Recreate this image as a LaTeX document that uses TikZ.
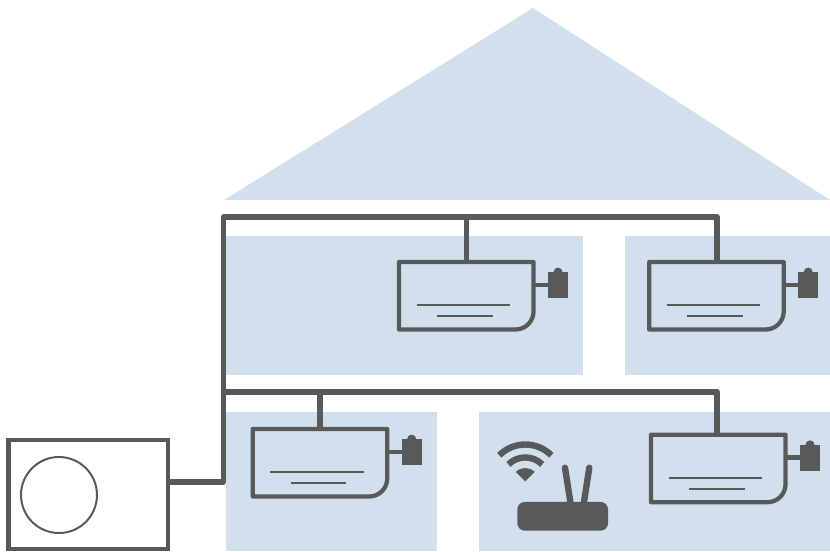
\documentclass[tikz,border=0pt]{standalone}
\usetikzlibrary{positioning,calc}
\definecolor{roomblue}{HTML}{D2E0ED}
\definecolor{unitgray}{HTML}{58595B}

\begin{document}
\begin{tikzpicture}[
  x=0.75pt, y=-0.75pt,
  room/.style={fill=roomblue},
  pipe/.style={draw=unitgray, line width=4.1pt, line join=round},
  outline/.style={draw=unitgray, line width=3.2pt, line join=round},
  thinline/.style={draw=unitgray, line width=1.5pt},
  body/.style={minimum width=100.9pt, minimum height=50.6pt, inner sep=0pt, outer sep=0pt},
  wifiarc/.style={draw=unitgray, line width=4.8pt},
  antenna/.style={draw=unitgray, line width=4.8pt, line cap=round},
  indoor/.pic={
    \node[body] (body) at (67.25,33.75) {};
    \draw[outline] (body.north west) -- (body.north east) -- ([yshift=13.5pt]body.south east)
      arc (0:-90:13.5pt) -- (body.south west) -- cycle;
    \draw[thinline] (17.5,43) -- (111,43);
    \draw[thinline] (38,54) -- (93.5,54);
    \node[fill=unitgray, minimum width=15pt, minimum height=19.3pt, inner sep=0pt, outer sep=0pt] (cell) at (159,23) {};
    \fill[unitgray] (cell.north) ++(-3.4pt,0) arc (180:0:3.4pt) -- cycle;
    \draw[pipe, line width=3.6pt] (body.east |- cell.center) -- (cell.center);
  }
]

% house
\fill[room] (533,8) -- (830,200) -- (224,200) -- cycle;
\fill[room] (226,236) rectangle (583,375);
\fill[room] (625,236) rectangle (830,375);
\fill[room] (226,412) rectangle (437,551);
\fill[room] (479,412) rectangle (830,551);

% units
\pic (unitA) at (399,262) {indoor};
\pic (unitB) at (649.2,262) {indoor};
\pic (unitC) at (252.7,429) {indoor};
\pic (unitD) at (651,434.7) {indoor};

\node[draw=unitgray, line width=3.2pt, minimum width=119.6pt, minimum height=81.4pt, inner sep=0pt, outer sep=0pt] (outdoor) at (88.25,494.5) {};
\node[draw=unitgray, line width=1.5pt, circle, minimum size=57pt, inner sep=0pt] (fan) at (59,495) {};

% pipes
\coordinate (tee) at (223.5,482);
\coordinate (upper) at (223.5,217);
\coordinate (lower) at (223.5,392);
\coordinate (cornerB) at (717,217);
\coordinate (cornerD) at (717,392);

\draw[pipe] (outdoor.east |- tee) -- (tee) -- (upper) -- (cornerB) -- (cornerB |- unitBbody.north);
\draw[pipe] (lower) -- (cornerD) -- (cornerD |- unitDbody.north);
\draw[pipe] (unitAbody.north |- upper) -- (unitAbody.north);
\draw[pipe] (unitCbody.north |- lower) -- (unitCbody.north);

% router
\node[fill=unitgray, rounded corners=5.5pt, minimum width=68pt, minimum height=21.5pt, inner sep=0pt, outer sep=0pt] (router) at (562.7,516.3) {};
\coordinate (tipL) at (565,467.7);
\coordinate (tipR) at (589.3,467.7);
\draw[antenna] (tipL) -- (570.7,504);
\draw[antenna] (tipR) -- (583.7,504);

% wifi
\coordinate (wifitip) at (525.3,481.3);
\fill[unitgray] (wifitip) -- ++(45:10pt) arc (45:135:10pt) -- cycle;
\foreach \r in {17.9,27.6} {
  \draw[wifiarc] ([shift={(45:\r pt)}]wifitip) arc (45:135:\r pt);
}

\useasboundingbox (0,0) rectangle (830,551);
\end{tikzpicture}
\end{document}
